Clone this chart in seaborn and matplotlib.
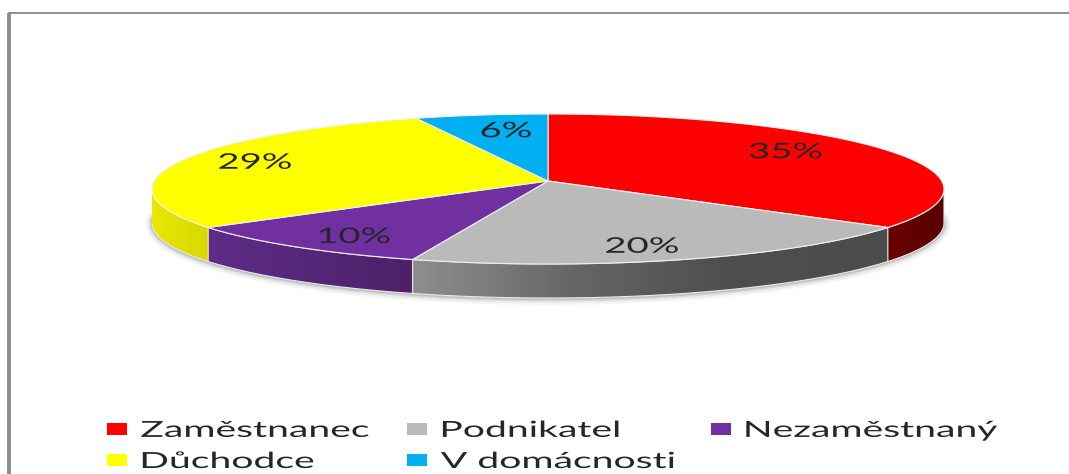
import numpy as np
import matplotlib
matplotlib.use("Agg")
import matplotlib.pyplot as plt
import matplotlib.patheffects as pe
import seaborn as sns
from matplotlib.colors import LinearSegmentedColormap
from matplotlib.path import Path
from matplotlib.patches import PathPatch
from matplotlib.transforms import Affine2D

categories = ["Zaměstnanec", "Podnikatel", "Nezaměstnaný", "Důchodce", "V domácnosti"]
values = [35, 20, 10, 29, 6]
colors = ["#ff0000", "#bababa", "#7030a0", "#ffff00", "#00b0f0"]

# side wall shading, left to right
wall_colors = [("#6a0000", "#580000"), ("#8e8e8e", "#666666", "#4e4e4e", "#4c4c4c"), ("#5f2c88", "#4c2168"),
               ("#e8e800", "#d8d800"), ("#00b0f0", "#00b0f0")]
# label centres in ellipse units
label_pos = [(0.60, 0.49), (0.237, -0.77), (-0.49, -0.64), (-0.74, 0.35), (-0.106, 0.77)]

W, H = 1069, 474
DEPTH = 34 / 75
APEX_Y = 8 / 75


class StretchX(pe.AbstractPathEffect):
    """Widen the glyphs, the reference text is squeezed out sideways."""

    def __init__(self, sx, center=False):
        super().__init__()
        self.sx = sx
        self.center = center

    def draw_path(self, renderer, gc, tpath, affine, rgbFace=None):
        cx = tpath.get_extents().x0
        if self.center:
            cx = (tpath.get_extents().x0 + tpath.get_extents().x1) / 2
        stretch = Affine2D().translate(-cx, 0).scale(self.sx, 1).translate(cx, 0)
        renderer.draw_path(gc, tpath, stretch + affine, rgbFace)


def rim(theta_deg):
    # perspective: the disc centre lands on the apex, the rim stays on the ellipse
    t = np.radians(theta_deg)
    d = 1 + APEX_Y * np.sin(t)
    return np.cos(t) * np.sqrt(1 - APEX_Y ** 2) / d, (np.sin(t) + APEX_Y) / d


sns.set_theme(style="white")
plt.rcParams["font.family"] = ["Lato", "DejaVu Sans"]

fig = plt.figure(figsize=(W / 100, H / 100), dpi=100, facecolor="white")

# frame, only top and left are in the crop
frame = fig.add_axes([0, 0, 1, 1], zorder=0)
frame.set_xlim(0, W)
frame.set_ylim(H, 0)
frame.axis("off")
frame.plot([9, 9], [H, 13], color="#8c8c8c", lw=2.8, solid_capstyle="butt")
frame.plot([8, W], [13, 13], color="#858585", lw=1.3, solid_capstyle="butt")

# axes span the ellipse: 1 unit = 396 px across and 75 px down
x0, x1 = 548 - 1.05 * 396, 548 + 1.05 * 396
y_top, y_bot = 189 - 1.1 * 75, 189 + 1.7 * 75
ax = fig.add_axes([x0 / W, 1 - y_bot / H, (x1 - x0) / W, (y_bot - y_top) / H], zorder=1)

wedges, _, autotexts = ax.pie(values, colors=sns.color_palette(colors), startangle=90,
                              counterclock=False, autopct="%.0f%%",
                              wedgeprops={"edgecolor": "#f0f0f0", "linewidth": 0.8, "zorder": 3},
                              textprops={"fontsize": 15.5, "color": "#262626"})

# soft shadow under the rim
t = np.radians(np.linspace(176, 364, 300))
for lw, alpha in [(9, 0.05), (6, 0.07), (3.5, 0.1), (1.8, 0.14)]:
    ax.plot(np.cos(t), np.sin(t) - DEPTH - 0.01, color="#404040", lw=lw, alpha=alpha, zorder=0)

grad = np.linspace(0, 1, 256).reshape(1, -1)
for w, shades in zip(wedges, wall_colors):
    xs, ys = rim(np.linspace(w.theta1, w.theta2, 240))

    # top face, keep pie's angles but bend them through the perspective
    top = np.r_[np.c_[xs, ys], [(0, APEX_Y)], [(xs[0], ys[0])]]
    w._path = Path(top, closed=True)

    # side wall, front half only
    keep = ys <= 0
    if not keep.any():
        continue
    xs, ys = xs[keep], ys[keep]
    verts = np.r_[np.c_[xs, ys], np.c_[xs, ys - DEPTH][::-1]]
    im = ax.imshow(grad, aspect="auto", zorder=1, extent=(xs.min(), xs.max(), -2, 1),
                   cmap=LinearSegmentedColormap.from_list("wall", list(shades)))
    ax.add_patch(PathPatch(Path(verts), fc="none", ec="#e8e8e8", lw=0.8, zorder=2))
    im.set_clip_path(Path(verts), ax.transData)

ax.set_aspect("auto")
ax.set_xlim(-1.05, 1.05)
ax.set_ylim(-1.7, 1.1)

for txt, pos in zip(autotexts, label_pos):
    txt.set_position(pos)
    txt.set_ha("center")
    txt.set_va("center")
    txt.set_zorder(5)
    txt.set_path_effects([StretchX(1.78, center=True)])

# column first order, gives the reference rows
order = [0, 3, 1, 4, 2]
leg = fig.legend([wedges[i] for i in order], [categories[i] for i in order], ncol=3,
                 loc="lower left", bbox_to_anchor=(107 / W, 2 / H), frameon=False,
                 fontsize=16, borderpad=0, borderaxespad=0, handlelength=0.9,
                 handleheight=0.45, handletextpad=0.62, columnspacing=6.1, labelspacing=0.5,
                 labelcolor="#262626")
for txt in leg.get_texts():
    txt.set_path_effects([StretchX(1.76)])
for h in leg.legend_handles:
    h.set_linewidth(0)

fig.savefig("out.png", dpi=100, facecolor="white")
